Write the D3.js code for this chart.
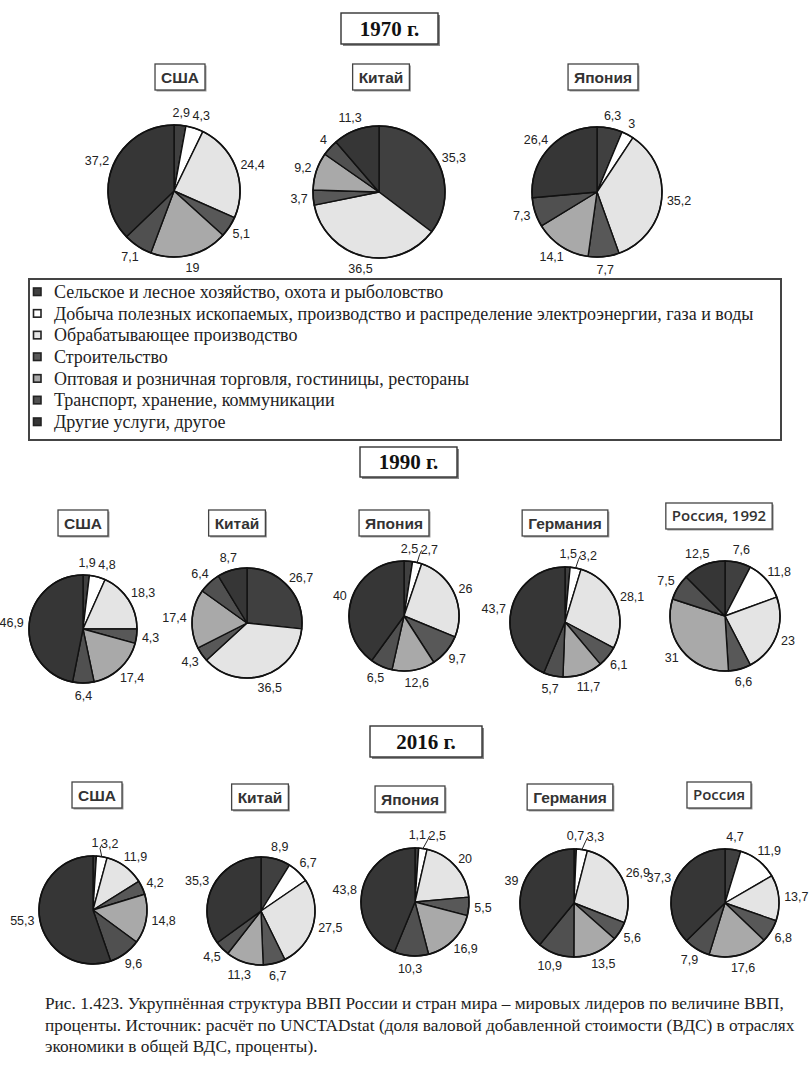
<!DOCTYPE html>
<html><head><meta charset="utf-8">
<script src="https://cdn.jsdelivr.net/npm/d3@7/dist/d3.min.js"></script>
<style>html,body{margin:0;padding:0;background:#fff;}svg{display:block;}</style>
</head><body>
<svg id="chart" width="811" height="1065"></svg>
<script>
// ---------- DATA ----------
const sectors = [
  "Сельское и лесное хозяйство, охота и рыболовство",
  "Добыча полезных ископаемых, производство и распределение электроэнергии, газа и воды",
  "Обрабатывающее производство",
  "Строительство",
  "Оптовая и розничная торговля, гостиницы, рестораны",
  "Транспорт, хранение, коммуникации",
  "Другие услуги, другое"
];
const sectorColors = ["#404040", "#ffffff", "#e4e4e4", "#585858", "#a9a9a9", "#505050", "#363636"];
const years = ["1970 г.", "1990 г.", "2016 г."];
const countries1970 = ["США", "Китай", "Япония"];
const countries1990 = ["США", "Китай", "Япония", "Германия", "Россия, 1992"];
const countries2016 = ["США", "Китай", "Япония", "Германия", "Россия"];
// order of values = order of sectors
const usa1970     = [2.9, 4.3, 24.4, 5.1, 19, 7.1, 37.2];
const china1970   = [35.3, 0, 36.5, 3.7, 9.2, 4, 11.3];
const japan1970   = [6.3, 3, 35.2, 7.7, 14.1, 7.3, 26.4];
const usa1990     = [1.9, 4.8, 18.3, 4.3, 17.4, 6.4, 46.9];
const china1990   = [26.7, 0, 36.5, 4.3, 17.4, 6.4, 8.7];
const japan1990   = [2.5, 2.7, 26, 9.7, 12.6, 6.5, 40];
const germany1990 = [1.5, 3.2, 28.1, 6.1, 11.7, 5.7, 43.7];
const russia1992  = [7.6, 11.8, 23, 6.6, 31, 7.5, 12.5];
const usa2016     = [1, 3.2, 11.9, 4.2, 14.8, 9.6, 55.3];
const china2016   = [8.9, 6.7, 27.5, 6.7, 11.3, 4.5, 35.3];
const japan2016   = [1.1, 2.5, 20, 5.5, 16.9, 10.3, 43.8];
const germany2016 = [0.7, 3.3, 26.9, 5.6, 13.5, 10.9, 39];
const russia2016  = [4.7, 11.9, 13.7, 6.8, 17.6, 7.9, 37.3];
const captionLines = [
  "Рис. 1.423. Укрупнённая структура ВВП России и стран мира – мировых лидеров по величине ВВП,",
  "проценты. Источник: расчёт по UNCTADstat (доля валовой добавленной стоимости (ВДС) в отраслях",
  "экономики в общей ВДС, проценты)."
];

// ---------- LAYOUT ----------
const svg = d3.select("#chart");
const color = d3.scaleOrdinal().domain(d3.range(sectors.length)).range(sectorColors);
const fmt = v => String(v).replace(".", ",");

const sections = [
  { year: years[0], box: [341, 13, 97, 31],
    pies: [
      { name: countries1970[0], vals: usa1970,   lab: [180, 77], c: [174, 191], r: 66 },
      { name: countries1970[1], vals: china1970, lab: [381, 77], c: [379, 192], r: 66 },
      { name: countries1970[2], vals: japan1970, lab: [603, 77], c: [597, 192], r: 65 }
    ]},
  { year: years[1], box: [360, 447, 97, 30],
    pies: [
      { name: countries1990[0], vals: usa1990,     lab: [83, 523],  c: [83, 629],  r: 54 },
      { name: countries1990[1], vals: china1990,   lab: [237, 523], c: [247, 623], r: 55 },
      { name: countries1990[2], vals: japan1990,   lab: [394, 523], c: [404, 616], r: 55 },
      { name: countries1990[3], vals: germany1990, lab: [565, 523], c: [565, 622], r: 55 },
      { name: countries1990[4], vals: russia1992,  lab: [719, 516], c: [725, 616], r: 55, alt: true }
    ]},
  { year: years[2], box: [370, 726, 112, 31],
    pies: [
      { name: countries2016[0], vals: usa2016,     lab: [97, 795],  c: [93, 910],  r: 54 },
      { name: countries2016[1], vals: china2016,   lab: [260, 797], c: [261, 911], r: 54 },
      { name: countries2016[2], vals: japan2016,   lab: [410, 799], c: [415, 902], r: 54 },
      { name: countries2016[3], vals: germany2016, lab: [570, 797], c: [574, 903], r: 54 },
      { name: countries2016[4], vals: russia2016,  lab: [719, 795], c: [725, 903], r: 54, alt: true }
    ]}
];

function boxedLabel(cx, cy, text, alt) {
  const g = svg.append("g");
  const t = g.append("text").attr("x", cx).attr("y", cy).attr("dy", "0.36em")
    .attr("text-anchor", "middle")
    .style("font-family", alt ? "'Open Sans', sans-serif" : "'Liberation Sans', Arial, sans-serif")
    .style("font-weight", alt ? 600 : 700)
    .style("font-size", alt ? "15px" : "15.5px")
    .style("fill", "#333").text(text);
  const bb = t.node().getBBox();
  const w = bb.width + 12, h = 26;
  g.insert("rect", "text").attr("x", cx - w / 2 + 1.5).attr("y", cy - h / 2 + 1.5)
    .attr("width", w).attr("height", h).attr("fill", "#999");
  g.insert("rect", "text").attr("x", cx - w / 2).attr("y", cy - h / 2)
    .attr("width", w).attr("height", h).attr("fill", "#fff")
    .attr("stroke", "#444").attr("stroke-width", 1.3);
}

function drawPie(p) {
  const [cx, cy] = p.c, r = p.r;
  const data = p.vals.map((v, i) => ({ v, i }));
  const arcs = d3.pie().sort(null).value(d => d.v)(data);
  const arc = d3.arc().innerRadius(0).outerRadius(r);
  const g = svg.append("g").attr("transform", `translate(${cx},${cy})`);
  g.selectAll("path").data(arcs.filter(a => a.data.v > 0)).join("path")
    .attr("d", arc).attr("fill", d => color(d.data.i))
    .attr("stroke", "#111").attr("stroke-width", 1.4).attr("stroke-linejoin", "round");
  g.append("circle").attr("r", r).attr("fill", "none").attr("stroke", "#111").attr("stroke-width", 1.6);

  const d = 4.5, pad = 2;
  const live = arcs.filter(a => a.data.v > 0);
  const placed = [];
  live.forEach((a, k) => {
    const ang = (a.startAngle + a.endAngle) / 2;
    const s = Math.sin(ang), c = Math.cos(ang);
    const t = g.append("text").attr("text-anchor", "middle").attr("dy", "0.35em")
      .style("font-family", "'Liberation Sans', Arial, sans-serif")
      .style("font-size", "12.5px").style("fill", "#222")
      .text(fmt(a.data.v));
    const w0 = t.node().getBBox().width, h0 = 11;
    let x = (r + d) * s + (w0 / 2 + 1) * s;
    let y = -(r + d + 2 * Math.abs(c)) * c - (h0 / 2 + 1) * c;
    t.attr("x", x).attr("y", y);
    let bb = t.node().getBBox();
    for (let it = 0; it < 20; it++) {
      const hit = placed.find(q => bb.x < q.x + q.width + pad && bb.x + bb.width + pad > q.x &&
                                   bb.y < q.y + q.height && bb.y + bb.height > q.y);
      if (!hit) break;
      const dir = s < -0.12 ? -1 : 1;
      const shift = dir > 0 ? (hit.x + hit.width + pad - bb.x + 0.5) : -(bb.x + bb.width + pad - hit.x + 0.5);
      x += shift;
      t.attr("x", x);
      bb = t.node().getBBox();
    }
    placed.push(bb);
    const prev = k > 0 ? live[k - 1] : null;
    if (a.data.v < 3.5 && prev && prev.data.v < 3.5) {
      g.append("path")
        .attr("d", `M${r * s},${-r * c} L${bb.x - 1},${bb.y + bb.height - 3} L${bb.x + 1},${bb.y + bb.height / 2}`)
        .attr("fill", "none").attr("stroke", "#222").attr("stroke-width", 1);
    }
  });
}

sections.forEach(sec => {
  const [bx, by, bw, bh] = sec.box;
  svg.append("rect").attr("x", bx + 2).attr("y", by + 2).attr("width", bw).attr("height", bh).attr("fill", "#888");
  svg.append("rect").attr("x", bx).attr("y", by).attr("width", bw).attr("height", bh)
    .attr("fill", "#fff").attr("stroke", "#333").attr("stroke-width", 1.4);
  svg.append("text").attr("x", bx + bw / 2).attr("y", by + bh / 2).attr("dy", "0.35em")
    .attr("text-anchor", "middle")
    .style("font-family", "'Liberation Serif', 'Times New Roman', serif")
    .style("font-weight", 700).style("font-size", "21px").style("fill", "#111")
    .text(sec.year);
  sec.pies.forEach(p => {
    boxedLabel(p.lab[0], p.lab[1], p.name, p.alt);
    drawPie(p);
  });
});

// ---------- LEGEND ----------
const lg = svg.append("g");
lg.append("rect").attr("x", 29).attr("y", 279).attr("width", 752).attr("height", 161)
  .attr("fill", "#fff").attr("stroke", "#444").attr("stroke-width", 2);
const rowY = d3.scalePoint().domain(d3.range(sectors.length)).range([292, 422]);
sectors.forEach((s, i) => {
  lg.append("rect").attr("x", 33.5).attr("y", rowY(i) - 4).attr("width", 7.5).attr("height", 7.5)
    .attr("fill", color(i)).attr("stroke", "#222").attr("stroke-width", 1.6);
  lg.append("text").attr("x", 54).attr("y", rowY(i)).attr("dy", "0.33em")
    .style("font-family", "'Liberation Serif', 'Times New Roman', serif")
    .style("font-size", "18px").style("fill", "#222").text(s);
});

// ---------- CAPTION ----------
captionLines.forEach((l, i) => {
  svg.append("text").attr("x", 45).attr("y", 1009 + i * 21.5)
    .style("font-family", "'Liberation Serif', 'Times New Roman', serif")
    .style("font-size", "17.3px").style("fill", "#222").text(l);
});
</script>
</body></html>
